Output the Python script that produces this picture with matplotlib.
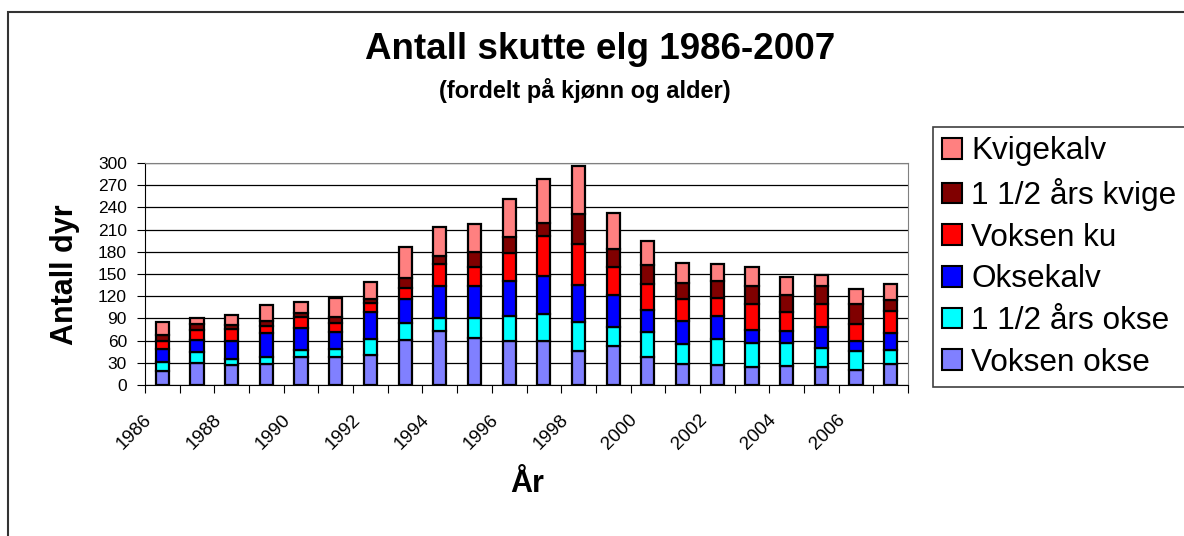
import matplotlib
matplotlib.use("Agg")
import matplotlib.pyplot as plt
import matplotlib.transforms as mtransforms
from matplotlib.patches import Rectangle, Patch
import numpy as np

plt.rcParams['font.family'] = ['Liberation Sans', 'DejaVu Sans']

# data (antall dyr per år)
years = list(range(1986, 2008))
voksen_okse = [19, 30, 27, 28, 38, 38, 41, 61, 73, 64, 60, 60, 46, 53, 38, 28, 27, 25, 26, 25, 20, 28]
okse_15 = [12, 14, 8, 10, 9, 10, 21, 23, 18, 26, 33, 36, 39, 26, 33, 28, 35, 32, 31, 25, 26, 19]
oksekalv = [17, 17, 25, 32, 30, 23, 36, 32, 43, 44, 47, 51, 50, 43, 30, 30, 31, 17, 16, 28, 14, 23]
voksen_ku = [11, 13, 16, 10, 15, 13, 13, 15, 30, 26, 39, 54, 56, 37, 35, 30, 24, 35, 26, 32, 23, 30]
kvige_15 = [9, 8, 5, 6, 5, 8, 5, 14, 10, 20, 21, 18, 40, 25, 26, 22, 23, 25, 22, 24, 27, 15]
kvigekalv = [17, 9, 14, 22, 15, 26, 23, 42, 40, 38, 51, 59, 65, 49, 32, 27, 23, 26, 25, 15, 20, 21]

series = [
    ("Voksen okse", voksen_okse, "#8080FF"),
    ("1 1/2 års okse", okse_15, "#00FFFF"),
    ("Oksekalv", oksekalv, "#0000FF"),
    ("Voksen ku", voksen_ku, "#FF0000"),
    ("1 1/2 års kvige", kvige_15, "#800000"),
    ("Kvigekalv", kvigekalv, "#FF8080"),
]

W, H = 1184, 536
fig = plt.figure(figsize=(W / 100, H / 100), dpi=100)
ax = fig.add_axes([145 / W, 1 - 385 / H, (908 - 145) / W, (385 - 163) / H])

x = np.arange(len(years))
bottom = np.zeros(len(years))
for name, vals, col in series:
    ax.bar(x, vals, width=0.38, bottom=bottom, color=col, edgecolor='black',
           linewidth=1.6, label=name, zorder=3)
    bottom += np.array(vals)

ax.set_xlim(-0.5, len(years) - 0.5)
ax.set_ylim(0, 300)
ax.set_yticks(range(0, 301, 30))
ax.yaxis.grid(True, color='black', linewidth=0.9)
ax.set_axisbelow(True)

# tick marks between categories, labels on every second category
ax.set_xticks(np.arange(len(years) + 1) - 0.5)
ax.set_xticklabels([])
ax.set_xticks(x[::2], minor=True)
ax.set_xticklabels([str(y) for y in years[::2]], minor=True, rotation=45,
                   ha='right', va='top', fontsize=13.5)
ax.tick_params(axis='x', which='major', length=6, direction='out')
ax.tick_params(axis='x', which='minor', length=0, pad=19)
ax.tick_params(axis='y', length=6, labelsize=12.5, pad=7)
offset = mtransforms.ScaledTranslation(-7 / 100, 0, fig.dpi_scale_trans)
for lab in ax.xaxis.get_minorticklabels():
    lab.set_transform(lab.get_transform() + offset)

ax.spines['left'].set_color('black')
ax.spines['bottom'].set_color('black')
ax.spines['right'].set_color('#808080')
ax.spines['top'].set_color('#808080')

fig.text(600 / W, 1 - 59 / H, "Antall skutte elg 1986-2007", fontsize=26.5,
         fontweight='bold', ha='center', va='baseline')
fig.text(585 / W, 1 - 98 / H, "(fordelt på kjønn og alder)", fontsize=17,
         fontweight='bold', ha='center', va='baseline')
fig.text(65 / W, 1 - 275 / H, "Antall dyr", fontsize=22, fontweight='bold',
         rotation=90, ha='center', va='center')
fig.text(527 / W, 1 - 484 / H, "År", fontsize=22, fontweight='bold',
         ha='center', va='center')

handles = [Patch(facecolor=c, edgecolor='black', linewidth=1.5) for _, _, c in series[::-1]]
labels = [n for n, _, _ in series[::-1]]
leg = fig.legend(handles, labels, loc='upper left', bbox_to_anchor=(933 / W, 1 - 127 / H),
                 bbox_transform=fig.transFigure, fontsize=22.7, frameon=True, fancybox=False,
                 edgecolor='#404040', framealpha=1, handlelength=0.62, handleheight=0.62,
                 handletextpad=0.3, labelspacing=0.37, borderpad=0.3, borderaxespad=0)
leg.get_frame().set_linewidth(1.2)

# chart area frame
fig.patches.append(Rectangle((8 / W, -0.05), 1.1, 1 - 12 / H + 0.05, transform=fig.transFigure,
                             fill=False, edgecolor='#333333', linewidth=1.5))

fig.savefig('out.png', dpi=100)
